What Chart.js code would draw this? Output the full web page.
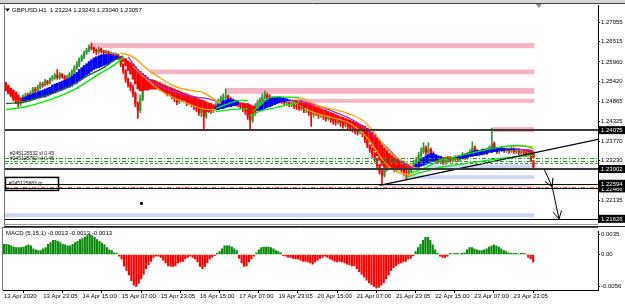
<!DOCTYPE html>
<html>
<head>
<meta charset="utf-8">
<script src="https://cdn.jsdelivr.net/npm/chart.js@4.4.1/dist/chart.umd.min.js"></script>
<style>
  html, body { margin: 0; padding: 0; background: #fff; }
  #wrap { position: relative; width: 625px; height: 304px; overflow: hidden; background: #fff; }
  #wrap canvas { position: absolute; left: 0; }
  #main { top: 0; }
  #macd { top: 227px; }
</style>
</head>
<body>
<div id="wrap">
  <canvas id="main" width="625" height="227"></canvas>
  <canvas id="macd" width="625" height="77"></canvas>
</div>
<script>
// ---- GBPUSD H1 bars, 13 Apr - 23 Apr 2020 ----
const open = [1.2537,1.2526,1.2516,1.2505,1.2494,1.2486,1.2481,1.2489,1.2499,1.2505,
 1.2502,1.2510,1.2521,1.2516,1.2526,1.2535,1.2532,1.2543,1.2537,1.2548,
 1.2553,1.2559,1.2553,1.2562,1.2556,1.2548,1.2553,1.2562,1.2570,1.2580,
 1.2589,1.2602,1.2610,1.2621,1.2629,1.2637,1.2634,1.2629,1.2624,1.2632,
 1.2626,1.2621,1.2624,1.2616,1.2618,1.2613,1.2616,1.2607,1.2589,1.2570,
 1.2548,1.2535,1.2526,1.2508,1.2481,1.2462,1.2494,1.2535,1.2548,1.2526,
 1.2537,1.2543,1.2532,1.2537,1.2526,1.2521,1.2516,1.2508,1.2513,1.2499,
 1.2494,1.2486,1.2491,1.2499,1.2494,1.2483,1.2489,1.2478,1.2472,1.2467,
 1.2456,1.2462,1.2445,1.2462,1.2467,1.2462,1.2467,1.2478,1.2486,1.2494,
 1.2499,1.2502,1.2494,1.2489,1.2486,1.2483,1.2478,1.2472,1.2467,1.2462,
 1.2445,1.2435,1.2454,1.2472,1.2483,1.2491,1.2499,1.2505,1.2499,1.2494,
 1.2494,1.2489,1.2494,1.2491,1.2486,1.2483,1.2483,1.2478,1.2481,1.2475,
 1.2472,1.2467,1.2472,1.2462,1.2467,1.2456,1.2451,1.2459,1.2454,1.2448,
 1.2451,1.2445,1.2440,1.2445,1.2437,1.2432,1.2429,1.2435,1.2427,1.2421,
 1.2424,1.2418,1.2413,1.2410,1.2405,1.2402,1.2408,1.2397,1.2381,1.2364,
 1.2354,1.2343,1.2327,1.2310,1.2294,1.2283,1.2300,1.2310,1.2319,1.2305,
 1.2300,1.2310,1.2305,1.2297,1.2292,1.2289,1.2294,1.2305,1.2316,1.2324,
 1.2337,1.2348,1.2359,1.2346,1.2354,1.2343,1.2332,1.2327,1.2321,1.2327,
 1.2319,1.2324,1.2329,1.2324,1.2327,1.2332,1.2327,1.2332,1.2337,1.2332,
 1.2340,1.2346,1.2359,1.2348,1.2343,1.2346,1.2351,1.2346,1.2354,1.2359,
 1.2370,1.2354,1.2348,1.2354,1.2356,1.2351,1.2354,1.2351,1.2356,1.2348,
 1.2351,1.2346,1.2348,1.2346,1.2343,1.2346,1.23224];
const high = [1.2540,1.2532,1.2521,1.2508,1.2499,1.2491,1.2494,1.2505,1.2510,1.2510,
 1.2516,1.2526,1.2526,1.2532,1.2540,1.2540,1.2548,1.2545,1.2553,1.2559,
 1.2564,1.2575,1.2567,1.2564,1.2559,1.2559,1.2567,1.2575,1.2586,1.2597,
 1.2607,1.2616,1.2626,1.2634,1.2643,1.2648,1.2637,1.2632,1.2637,1.2634,
 1.2629,1.2629,1.2626,1.2624,1.2621,1.2621,1.2618,1.2610,1.2591,1.2575,
 1.2551,1.2540,1.2532,1.2513,1.2486,1.2505,1.2543,1.2553,1.2551,1.2543,
 1.2548,1.2545,1.2543,1.2540,1.2532,1.2526,1.2521,1.2518,1.2516,1.2505,
 1.2499,1.2497,1.2505,1.2502,1.2497,1.2494,1.2491,1.2483,1.2478,1.2472,
 1.2467,1.2464,1.2472,1.2475,1.2472,1.2475,1.2483,1.2494,1.2502,1.2508,
 1.2521,1.2505,1.2499,1.2494,1.2491,1.2489,1.2483,1.2478,1.2472,1.2464,
 1.2451,1.2462,1.2481,1.2489,1.2497,1.2508,1.2516,1.2510,1.2505,1.2499,
 1.2497,1.2499,1.2499,1.2497,1.2489,1.2489,1.2486,1.2486,1.2483,1.2481,
 1.2478,1.2478,1.2475,1.2472,1.2470,1.2462,1.2464,1.2462,1.2456,1.2456,
 1.2454,1.2448,1.2451,1.2448,1.2440,1.2437,1.2440,1.2437,1.2429,1.2429,
 1.2427,1.2421,1.2418,1.2413,1.2410,1.2413,1.2410,1.2400,1.2383,1.2367,
 1.2359,1.2346,1.2329,1.2313,1.2300,1.2310,1.2319,1.2327,1.2321,1.2310,
 1.2316,1.2316,1.2308,1.2302,1.2300,1.2302,1.2310,1.2324,1.2332,1.2346,
 1.2359,1.2373,1.2364,1.2373,1.2359,1.2348,1.2337,1.2332,1.2332,1.2329,
 1.2329,1.2335,1.2335,1.2332,1.2337,1.2337,1.2337,1.2346,1.2343,1.2346,
 1.2354,1.2375,1.2364,1.2354,1.2351,1.2356,1.2356,1.2359,1.2364,1.2413,
 1.2375,1.2359,1.2359,1.2362,1.2359,1.2359,1.2356,1.2362,1.2359,1.2356,
 1.2354,1.2354,1.2354,1.2351,1.2351,1.2348,1.23243];
const low = [1.2521,1.2510,1.2499,1.2489,1.2481,1.2472,1.2475,1.2483,1.2494,1.2497,
 1.2497,1.2505,1.2510,1.2513,1.2521,1.2526,1.2529,1.2532,1.2535,1.2543,
 1.2548,1.2548,1.2548,1.2551,1.2543,1.2543,1.2548,1.2556,1.2564,1.2575,
 1.2583,1.2597,1.2605,1.2616,1.2624,1.2629,1.2621,1.2616,1.2618,1.2621,
 1.2613,1.2616,1.2610,1.2610,1.2607,1.2607,1.2602,1.2583,1.2564,1.2540,
 1.2526,1.2516,1.2499,1.2472,1.2440,1.2456,1.2489,1.2526,1.2521,1.2521,
 1.2532,1.2526,1.2526,1.2521,1.2516,1.2508,1.2502,1.2502,1.2494,1.2486,
 1.2478,1.2481,1.2486,1.2489,1.2475,1.2478,1.2472,1.2464,1.2459,1.2448,
 1.2445,1.2408,1.2440,1.2456,1.2454,1.2456,1.2462,1.2472,1.2481,1.2489,
 1.2494,1.2489,1.2483,1.2478,1.2475,1.2472,1.2467,1.2459,1.2451,1.2437,
 1.2408,1.2429,1.2448,1.2467,1.2478,1.2486,1.2494,1.2494,1.2489,1.2486,
 1.2483,1.2483,1.2486,1.2481,1.2475,1.2478,1.2472,1.2472,1.2467,1.2464,
 1.2462,1.2462,1.2456,1.2456,1.2448,1.2418,1.2443,1.2448,1.2440,1.2443,
 1.2437,1.2432,1.2435,1.2429,1.2424,1.2421,1.2424,1.2418,1.2413,1.2416,
 1.2410,1.2405,1.2402,1.2397,1.2394,1.2397,1.2389,1.2373,1.2359,1.2346,
 1.2332,1.2319,1.2302,1.2286,1.2259,1.2278,1.2294,1.2305,1.2300,1.2292,
 1.2294,1.2297,1.2292,1.2283,1.2270,1.2283,1.2289,1.2300,1.2310,1.2319,
 1.2332,1.2343,1.2340,1.2340,1.2337,1.2327,1.2319,1.2316,1.2316,1.2313,
 1.2313,1.2319,1.2319,1.2319,1.2321,1.2321,1.2321,1.2327,1.2327,1.2327,
 1.2335,1.2340,1.2343,1.2337,1.2337,1.2340,1.2340,1.2340,1.2348,1.2354,
 1.2348,1.2343,1.2343,1.2348,1.2346,1.2346,1.2343,1.2346,1.2343,1.2343,
 1.2340,1.2340,1.2337,1.2335,1.2337,1.2321,1.23040];
const close = [1.2526,1.2516,1.2505,1.2494,1.2486,1.2481,1.2489,1.2499,1.2505,1.2502,
 1.2510,1.2521,1.2516,1.2526,1.2535,1.2532,1.2543,1.2537,1.2548,1.2553,
 1.2559,1.2553,1.2562,1.2556,1.2548,1.2553,1.2562,1.2570,1.2580,1.2589,
 1.2602,1.2610,1.2621,1.2629,1.2637,1.2634,1.2629,1.2624,1.2632,1.2626,
 1.2621,1.2624,1.2616,1.2618,1.2613,1.2616,1.2607,1.2589,1.2570,1.2548,
 1.2535,1.2526,1.2508,1.2481,1.2462,1.2494,1.2535,1.2548,1.2526,1.2537,
 1.2543,1.2532,1.2537,1.2526,1.2521,1.2516,1.2508,1.2513,1.2499,1.2494,
 1.2486,1.2491,1.2499,1.2494,1.2483,1.2489,1.2478,1.2472,1.2467,1.2456,
 1.2462,1.2445,1.2462,1.2467,1.2462,1.2467,1.2478,1.2486,1.2494,1.2499,
 1.2502,1.2494,1.2489,1.2486,1.2483,1.2478,1.2472,1.2467,1.2462,1.2445,
 1.2435,1.2454,1.2472,1.2483,1.2491,1.2499,1.2505,1.2499,1.2494,1.2494,
 1.2489,1.2494,1.2491,1.2486,1.2483,1.2483,1.2478,1.2481,1.2475,1.2472,
 1.2467,1.2472,1.2462,1.2467,1.2456,1.2451,1.2459,1.2454,1.2448,1.2451,
 1.2445,1.2440,1.2445,1.2437,1.2432,1.2429,1.2435,1.2427,1.2421,1.2424,
 1.2418,1.2413,1.2410,1.2405,1.2402,1.2408,1.2397,1.2381,1.2364,1.2354,
 1.2343,1.2327,1.2310,1.2294,1.2283,1.2300,1.2310,1.2319,1.2305,1.2300,
 1.2310,1.2305,1.2297,1.2292,1.2289,1.2294,1.2305,1.2316,1.2324,1.2337,
 1.2348,1.2359,1.2346,1.2354,1.2343,1.2332,1.2327,1.2321,1.2327,1.2319,
 1.2324,1.2329,1.2324,1.2327,1.2332,1.2327,1.2332,1.2337,1.2332,1.2340,
 1.2346,1.2359,1.2348,1.2343,1.2346,1.2351,1.2346,1.2354,1.2359,1.2370,
 1.2354,1.2348,1.2354,1.2356,1.2351,1.2354,1.2351,1.2356,1.2348,1.2351,
 1.2346,1.2348,1.2346,1.2343,1.2346,1.23224,1.23057];

// smoothed heiken ashi bodies
const haOpen = [1.2535,1.2529,1.2524,1.2518,1.2513,1.2505,1.2497,1.2489,1.2489,1.2491,
 1.2491,1.2494,1.2494,1.2497,1.2497,1.2499,1.2499,1.2502,1.2505,1.2508,
 1.2510,1.2513,1.2516,1.2518,1.2521,1.2524,1.2526,1.2529,1.2535,1.2537,
 1.2543,1.2548,1.2553,1.2559,1.2564,1.2570,1.2575,1.2578,1.2580,1.2583,
 1.2586,1.2589,1.2591,1.2597,1.2599,1.2602,1.2607,1.2610,1.2607,1.2605,
 1.2599,1.2594,1.2589,1.2583,1.2575,1.2570,1.2564,1.2559,1.2553,1.2548,
 1.2545,1.2543,1.2540,1.2537,1.2535,1.2532,1.2529,1.2526,1.2524,1.2521,
 1.2518,1.2516,1.2513,1.2510,1.2508,1.2505,1.2502,1.2499,1.2497,1.2494,
 1.2491,1.2489,1.2486,1.2483,1.2481,1.2478,1.2464,1.2464,1.2467,1.2467,
 1.2470,1.2472,1.2472,1.2475,1.2475,1.2478,1.2483,1.2483,1.2481,1.2481,
 1.2478,1.2475,1.2472,1.2462,1.2462,1.2464,1.2467,1.2470,1.2472,1.2475,
 1.2478,1.2481,1.2483,1.2486,1.2486,1.2489,1.2489,1.2489,1.2489,1.2489,
 1.2486,1.2486,1.2483,1.2483,1.2481,1.2478,1.2475,1.2472,1.2470,1.2467,
 1.2464,1.2462,1.2459,1.2456,1.2454,1.2451,1.2448,1.2445,1.2443,1.2440,
 1.2437,1.2435,1.2432,1.2429,1.2427,1.2424,1.2421,1.2418,1.2413,1.2408,
 1.2402,1.2394,1.2386,1.2378,1.2367,1.2359,1.2351,1.2343,1.2337,1.2332,
 1.2327,1.2324,1.2321,1.2319,1.2316,1.2313,1.2310,1.2305,1.2305,1.2305,
 1.2308,1.2310,1.2313,1.2316,1.2319,1.2321,1.2324,1.2327,1.2329,1.2332,
 1.2332,1.2332,1.2332,1.2332,1.2332,1.2329,1.2329,1.2329,1.2332,1.2332,
 1.2335,1.2335,1.2337,1.2337,1.2340,1.2340,1.2343,1.2343,1.2346,1.2346,
 1.2348,1.2348,1.2351,1.2351,1.2351,1.2354,1.2354,1.2354,1.2354,1.2354,
 1.2354,1.2354,1.2354,1.2354,1.2354,1.2351,1.2348];
const haClose = [1.2516,1.2508,1.2502,1.2497,1.2494,1.2491,1.2489,1.2497,1.2499,1.2502,
 1.2505,1.2508,1.2510,1.2513,1.2516,1.2518,1.2521,1.2524,1.2526,1.2532,
 1.2535,1.2537,1.2540,1.2543,1.2545,1.2548,1.2551,1.2556,1.2562,1.2567,
 1.2575,1.2580,1.2586,1.2591,1.2597,1.2602,1.2607,1.2610,1.2613,1.2616,
 1.2616,1.2616,1.2616,1.2616,1.2613,1.2613,1.2610,1.2605,1.2597,1.2586,
 1.2572,1.2562,1.2548,1.2535,1.2521,1.2516,1.2516,1.2518,1.2518,1.2521,
 1.2521,1.2521,1.2521,1.2518,1.2516,1.2513,1.2510,1.2508,1.2505,1.2499,
 1.2494,1.2491,1.2491,1.2489,1.2486,1.2483,1.2481,1.2475,1.2472,1.2467,
 1.2464,1.2459,1.2459,1.2459,1.2462,1.2464,1.2472,1.2478,1.2483,1.2489,
 1.2491,1.2494,1.2494,1.2491,1.2489,1.2486,1.2481,1.2475,1.2467,1.2459,
 1.2451,1.2451,1.2456,1.2467,1.2475,1.2483,1.2489,1.2494,1.2497,1.2499,
 1.2499,1.2499,1.2499,1.2497,1.2497,1.2494,1.2491,1.2489,1.2486,1.2483,
 1.2478,1.2475,1.2472,1.2470,1.2467,1.2462,1.2459,1.2459,1.2456,1.2454,
 1.2451,1.2448,1.2445,1.2443,1.2440,1.2437,1.2435,1.2432,1.2429,1.2427,
 1.2424,1.2418,1.2416,1.2413,1.2410,1.2408,1.2405,1.2397,1.2386,1.2375,
 1.2364,1.2351,1.2337,1.2324,1.2310,1.2305,1.2305,1.2305,1.2305,1.2302,
 1.2302,1.2302,1.2300,1.2300,1.2297,1.2300,1.2302,1.2308,1.2313,1.2319,
 1.2327,1.2332,1.2337,1.2340,1.2343,1.2343,1.2340,1.2337,1.2335,1.2329,
 1.2329,1.2329,1.2329,1.2329,1.2332,1.2335,1.2337,1.2340,1.2340,1.2343,
 1.2346,1.2348,1.2351,1.2351,1.2351,1.2354,1.2354,1.2354,1.2356,1.2359,
 1.2359,1.2359,1.2359,1.2359,1.2356,1.2356,1.2356,1.2356,1.2356,1.2356,
 1.2356,1.2354,1.2351,1.2351,1.2348,1.2343,1.2332];

// MACD (5,15,1) histogram
const macd = [0.0018,0.0018,0.0017,0.0015,0.0013,0.0012,0.0012,0.0012,0.0013,0.0015,
 0.0017,0.0015,0.001,0.0008,0.0007,0.0007,0.001,0.0012,0.0018,0.0021,
 0.0025,0.0025,0.0023,0.0021,0.0018,0.0017,0.0015,0.0015,0.0018,0.0021,
 0.0023,0.0026,0.0028,0.003,0.0033,0.0035,0.0033,0.003,0.0026,0.0023,
 0.002,0.0017,0.0012,0.0008,0.0007,0.0003,0.0002,-0.0003,-0.0008,-0.002,
 -0.0028,-0.0036,-0.0046,-0.0054,-0.0056,-0.0051,-0.0043,-0.0035,-0.0025,-0.0018,
 -0.0012,-0.0005,-0.0003,-0.0003,-0.0005,-0.001,-0.0015,-0.002,-0.0021,-0.0021,
 -0.002,-0.0015,-0.0013,-0.0012,-0.0008,-0.0005,-0.0003,-0.0005,-0.0008,-0.0013,
 -0.0021,-0.0025,-0.0021,-0.0015,-0.0008,-0.0005,-0.0002,0.0002,0.0005,0.001,
 0.0015,0.0015,0.0015,0.0013,0.001,0.0007,-0.0007,-0.0015,-0.0021,-0.002,
 -0.0013,-0.0008,-0.0003,0.0003,0.0008,0.0012,0.0013,0.0013,0.0013,0.0012,
 0.001,0.0007,0.0005,0.0003,-0.0002,-0.0003,-0.0005,-0.0005,-0.0007,-0.0008,
 -0.0008,-0.001,-0.0012,-0.0012,-0.0013,-0.0015,-0.0017,-0.0013,-0.001,-0.0007,
 -0.0005,-0.0003,-0.0005,-0.0008,-0.001,-0.0012,-0.0013,-0.0012,-0.0013,-0.0015,
 -0.0017,-0.0018,-0.002,-0.002,-0.0025,-0.003,-0.0035,-0.004,-0.0045,-0.005,
 -0.0053,-0.0056,-0.0059,-0.0058,-0.0054,-0.005,-0.0043,-0.0036,-0.0028,-0.0023,
 -0.002,-0.0017,-0.0015,-0.0013,-0.0012,-0.0008,-0.0007,-0.0002,0.0005,0.0012,
 0.0018,0.0025,0.003,0.003,0.0025,0.0017,0.0008,0.0002,-0.0003,-0.0005,
 -0.0005,-0.0003,0.0002,0.0001,0.0002,0.0002,0.0001,0.0002,0.0003,0.0008,
 0.0012,0.0012,0.001,0.0008,0.0007,0.0007,0.0008,0.001,0.0013,0.0015,
 0.0017,0.0015,0.0013,0.001,0.0007,0.0005,0.0003,0.0002,0.0002,0.0002,
 0.0001,0.0002,0.0002,0.0001,-0.0005,-0.0008,-0.0013];

// moving-average channel, [bar, price] vertices
const limeA = [[0,1.2464],[8,1.2472],[19,1.2494],[27,1.2516],[33,1.2540],[38,1.2562],[44,1.2586],[48,1.2607]];
const darkGreenA = [[0,1.2481],[8,1.2486],[19,1.2510],[27,1.2532],[33,1.2556],[40,1.2580],[44,1.2599],[48,1.2613]];
const orangeUpB = [[47,1.2621],[52,1.2610],[59,1.2570],[69,1.2529],[75,1.2518],[80,1.2513],[85,1.2494],[88,1.2481]];
const purpleB = [[50,1.2610],[55,1.2567],[63,1.2529],[75,1.2502],[83,1.2494],[88,1.2483]];
const orangeLoB = [[52,1.2583],[61,1.2529],[67,1.2502],[80,1.2467],[86,1.2464]];
const limeC1 = [[86,1.2467],[90,1.2478],[95,1.2489],[99,1.2489]];
const limeC2 = [[86,1.2459],[92,1.2464],[99,1.2467]];
const limeE1 = [[101,1.2459],[105,1.2481],[108,1.2497],[114,1.2499],[120,1.2497]];
const limeE2 = [[100,1.2448],[105,1.2462],[109,1.2467],[114,1.2475],[120,1.2483]];
const orangeUpF = [[118,1.2499],[122,1.2494],[128,1.2475],[136,1.2462],[140,1.2454],[146,1.2435],[150,1.2408],[154,1.2373],[159,1.2337],[165,1.2313],[168,1.2302]];
const purpleF = [[120,1.2491],[133,1.2462],[143,1.2432],[151,1.2391],[158,1.2346],[162,1.2319],[167,1.2300]];
const orangeLoF = [[122,1.2467],[130,1.2448],[140,1.2429],[148,1.2386],[155,1.2319],[160,1.2292],[167,1.2283]];
const limeG1 = [[166,1.2289],[172,1.2305],[178,1.2324],[186,1.2337],[195,1.2351],[206,1.2364],[212,1.2364],[216,1.2356]];
const limeG2 = [[164,1.2278],[172,1.2294],[178,1.2305],[192,1.2319],[206,1.2332],[216,1.2337]];
const orangeG = [[205,1.2362],[210,1.2364],[216,1.2362]];
const purpleG = [[208,1.2356],[216,1.2351]];

// drawn objects
const trendLine = [[153,1.2255],[243,1.2383]];
const arrowPath = [[220.4,1.2300],[223.7,1.2251],[226.5,1.2162]];
const marker = [[55.5,1.2205]];
const pinkZones = [[35,1.2648,1.2634],[59,1.2575,1.2562],[90,1.2524,1.2508],[103,1.2494,1.2483],[199.6,1.2416,1.2402]];
const blueZones = [[172,1.2313,1.2300],[162,1.2283,1.2273],[154,1.2259,1.2251],[-0.4,1.2178,1.2167]];
const zoneEnd = 216.4;
const darkLevels = [1.24075, 1.23002];
const blackLevels = [1.22594, 1.22466, 1.21626];
const greenDashDot = [1.2330, 1.2322];
const greenDashed = [1.2317];
const orangeDashDot = [1.2250];
const boxedPrices = [1.24075, 1.23002, 1.22466, 1.22594, 1.21626];
const orderTags = [[1.2344, '#245125532 sl 0.45'], [1.2330, '#245125752 sl 0.45']];
const tpTag = [1.2259, '#245125883 tp'];

// axes
const priceTicks = [1.27055, 1.26515, 1.2596, 1.2542, 1.24865, 1.24325, 1.2377, 1.2323, 1.22135];
const macdTicks = [0.0035, 0, -0.0056];
const timeTickBars = [0, 16, 32, 48, 64, 80, 96, 112, 128, 144, 160, 176, 192, 208];
const timeLabels = ['13 Apr 2020','13 Apr 23:05','14 Apr 15:00','15 Apr 07:00','15 Apr 23:05','16 Apr 15:00',
  '17 Apr 07:00','19 Apr 23:05','20 Apr 15:00','21 Apr 07:00','21 Apr 23:05','22 Apr 15:00','23 Apr 07:00','23 Apr 23:05'];

const FONT = "'Liberation Sans', Arial, sans-serif";
Chart.defaults.font.family = FONT;
Chart.defaults.font.size = 6;
Chart.defaults.color = '#000';

const UP = '#2e9a2e', DOWN = '#ff0000', HA_UP = '#0000ff';
const X_MIN = -0.4, X_MAX = 242.46;
const bars = close.map((_, i) => i);
const pts = list => list.map(p => ({ x: p[0], y: p[1] }));

function maLine(list, color, width) {
  return { type: 'line', data: pts(list), borderColor: color, borderWidth: width || 1.3,
    pointRadius: 0, tension: 0.35, order: 30 };
}

function fixedWidth(w) { return scale => { scale.width = w; }; }

// ---- main price panel ----
const mainPlugin = {
  id: 'mainDecor',
  beforeDatasetsDraw(chart) {
    const { ctx, chartArea: a, scales: { x, y } } = chart;
    ctx.save();
    ctx.beginPath(); ctx.rect(a.left, a.top, a.right - a.left, a.bottom - a.top); ctx.clip();
    const band = (z, fill) => {
      const x0 = Math.max(x.getPixelForValue(z[0]), a.left);
      const x1 = x.getPixelForValue(zoneEnd);
      const y0 = y.getPixelForValue(z[1]), y1 = y.getPixelForValue(z[2]);
      ctx.fillStyle = fill;
      ctx.fillRect(x0, y0, x1 - x0, y1 - y0);
    };
    pinkZones.forEach(z => band(z, '#f7b4c2'));
    blueZones.forEach(z => band(z, '#cdd6f3'));
    ctx.restore();
  },
  afterDatasetsDraw(chart) {
    const { ctx, chartArea: a, scales: { x, y } } = chart;
    ctx.save();
    ctx.beginPath(); ctx.rect(a.left, a.top, a.right - a.left, a.bottom - a.top); ctx.clip();
    const hline = (p, color, w, dash) => {
      const py = Math.round(y.getPixelForValue(p)) + (w % 2 ? 0.5 : 0);
      ctx.beginPath();
      ctx.setLineDash(dash || []);
      ctx.strokeStyle = color; ctx.lineWidth = w;
      ctx.moveTo(a.left, py); ctx.lineTo(a.right, py); ctx.stroke();
    };
    greenDashDot.forEach(p => hline(p, '#1d9a1d', 1, [4, 2, 1, 2]));
    greenDashed.forEach(p => hline(p, '#3aa83a', 1, [3, 2]));
    orangeDashDot.forEach(p => hline(p, '#ff6a1a', 1, [4, 2, 1, 2]));
    darkLevels.forEach(p => hline(p, '#3a3a3a', 2));
    blackLevels.forEach(p => hline(p, '#000', 1));
    ctx.setLineDash([]);

    // arrow drawing
    const ap = arrowPath.map(p => [x.getPixelForValue(p[0]), y.getPixelForValue(p[1])]);
    ctx.strokeStyle = '#000'; ctx.lineWidth = 1;
    ctx.beginPath();
    for (let k = 1; k < ap.length; k++) {
      const [x0, y0] = ap[k - 1], [x1, y1] = ap[k];
      ctx.moveTo(x0, y0); ctx.lineTo(x1, y1);
      const ang = Math.atan2(y1 - y0, x1 - x0);
      ctx.moveTo(x1, y1); ctx.lineTo(x1 - 9 * Math.cos(ang - 0.5), y1 - 9 * Math.sin(ang - 0.5));
      ctx.moveTo(x1, y1); ctx.lineTo(x1 - 9 * Math.cos(ang + 0.5), y1 - 9 * Math.sin(ang + 0.5));
    }
    ctx.stroke();

    // order tags on the left
    ctx.font = '5px ' + FONT;
    ctx.textBaseline = 'middle'; ctx.textAlign = 'left';
    ctx.fillStyle = '#111';
    orderTags.forEach(t => ctx.fillText(t[1], a.left + 5, y.getPixelForValue(t[0])));
    const ty = y.getPixelForValue(tpTag[0]);
    ctx.strokeStyle = '#000'; ctx.lineWidth = 1.5;
    ctx.strokeRect(a.left + 0.5, ty - 6.5, 53, 13);
    ctx.fillText(tpTag[1], a.left + 4, ty);
    ctx.restore();
  },
  afterDraw(chart) {
    const { ctx, chartArea: a, scales: { x, y } } = chart;
    ctx.save();
    // window frame
    ctx.fillStyle = '#d6d6d6'; ctx.fillRect(0, 0, 625, 3);
    ctx.strokeStyle = '#444'; ctx.lineWidth = 1;
    ctx.beginPath(); ctx.moveTo(0, 3.5); ctx.lineTo(625, 3.5); ctx.stroke();
    ctx.strokeStyle = '#777';
    ctx.beginPath(); ctx.moveTo(a.left - 0.5, a.top); ctx.lineTo(a.left - 0.5, 227); ctx.stroke();
    ctx.strokeStyle = '#999';
    ctx.beginPath(); ctx.moveTo(a.left, 224.5); ctx.lineTo(a.right, 224.5); ctx.stroke();
    ctx.strokeStyle = '#222';
    ctx.beginPath(); ctx.moveTo(a.left, 226.5); ctx.lineTo(625, 226.5); ctx.stroke();

    // chart-shift marker
    const sx = x.getPixelForValue(218.2);
    ctx.fillStyle = '#8c8c8c';
    ctx.beginPath(); ctx.moveTo(sx - 3, 4); ctx.lineTo(sx + 3, 4); ctx.lineTo(sx, 8); ctx.fill();

    // symbol header
    ctx.fillStyle = '#000';
    ctx.beginPath(); ctx.moveTo(5, 8.5); ctx.lineTo(10, 8.5); ctx.lineTo(7.5, 11.5); ctx.fill();
    ctx.font = '6px ' + FONT; ctx.textBaseline = 'middle'; ctx.textAlign = 'left';
    ctx.fillText('GBPUSD,H1  1.23224 1.23243 1.23040 1.23057', 12, 10);

    // boxed price labels on the axis
    boxedPrices.forEach(p => {
      const py = y.getPixelForValue(p);
      ctx.fillStyle = '#000';
      ctx.fillRect(a.right + 1, py - 4, 26, 8);
      ctx.fillStyle = '#fff';
      ctx.fillText(p.toFixed(5), a.right + 3, py + 0.5);
    });
    ctx.restore();
  }
};

new Chart(document.getElementById('main'), {
  type: 'bar',
  data: {
    datasets: [
      { type: 'line', data: pts(marker), showLine: false, pointRadius: 1.3, pointStyle: 'rect',
        pointBackgroundColor: '#000', pointBorderColor: '#000', order: 5 },
      { type: 'line', data: pts(trendLine), borderColor: '#000', borderWidth: 1.2, pointRadius: 0, order: 10 },
      maLine(limeA, '#00ee00', 1.5), maLine(darkGreenA, '#1d6b1d', 1.4),
      maLine(orangeUpB, '#ffa000'), maLine(purpleB, '#9b30d9'), maLine(orangeLoB, '#ffa000'),
      maLine(limeC1, '#00ee00'), maLine(limeC2, '#00ee00'),
      maLine(limeE1, '#00ee00'), maLine(limeE2, '#00ee00'),
      maLine(orangeUpF, '#ffa000'), maLine(purpleF, '#9b30d9'), maLine(orangeLoF, '#ffa000'),
      maLine(limeG1, '#00ee00'), maLine(limeG2, '#00ee00'),
      maLine(orangeG, '#ffa000'), maLine(purpleG, '#9b30d9'),
      { data: bars.map(i => ({ x: i, y: [haOpen[i], haClose[i]] })), barThickness: 2, grouped: false,
        backgroundColor: c => haClose[c.dataIndex] >= haOpen[c.dataIndex] ? HA_UP : DOWN, order: 40 },
      { data: bars.map(i => ({ x: i, y: [open[i], close[i]] })), barThickness: 1.6, grouped: false,
        backgroundColor: c => close[c.dataIndex] >= open[c.dataIndex] ? UP : DOWN, order: 50 },
      { data: bars.map(i => ({ x: i, y: [low[i], high[i]] })), barThickness: 1, grouped: false,
        backgroundColor: c => close[c.dataIndex] >= open[c.dataIndex] ? UP : DOWN, order: 60 }
    ]
  },
  options: {
    responsive: false,
    maintainAspectRatio: false,
    animation: false,
    layout: { padding: { left: 3, right: 0, top: 4, bottom: 1 } },
    plugins: { legend: { display: false }, tooltip: { enabled: false } },
    scales: {
      x: { type: 'linear', min: X_MIN, max: X_MAX, offset: false, display: false },
      y: {
        position: 'right', min: 1.21538, max: 1.27532,
        afterFit: fixedWidth(27),
        afterBuildTicks: s => { s.ticks = priceTicks.map(v => ({ value: v })); },
        ticks: { autoSkip: false, padding: 1, callback: v => v.toFixed(5), font: { size: 6 } },
        grid: { drawOnChartArea: false, drawTicks: true, tickLength: 2, color: '#000' },
        border: { display: true, color: '#000', width: 1 }
      }
    }
  },
  plugins: [mainPlugin]
});

// ---- MACD panel ----
const macdPlugin = {
  id: 'macdDecor',
  afterDraw(chart) {
    const { ctx, chartArea: a } = chart;
    ctx.save();
    ctx.strokeStyle = '#555'; ctx.lineWidth = 1;
    ctx.beginPath(); ctx.moveTo(a.left, 0.5); ctx.lineTo(a.right, 0.5); ctx.stroke();
    ctx.strokeStyle = '#777';
    ctx.beginPath(); ctx.moveTo(a.left - 0.5, 0); ctx.lineTo(a.left - 0.5, a.bottom); ctx.stroke();
    ctx.fillStyle = '#000';
    ctx.font = '6px ' + FONT; ctx.textBaseline = 'middle'; ctx.textAlign = 'left';
    ctx.fillText('MACD (5,15,1) -0.0013 -0.0013 -0.0013', 6, 6.5);
    ctx.restore();
  }
};

new Chart(document.getElementById('macd'), {
  type: 'bar',
  data: {
    datasets: [{
      data: bars.map(i => ({ x: i, y: macd[i] })), barThickness: 1.5, grouped: false,
      backgroundColor: c => macd[c.dataIndex] >= 0 ? '#0a8a0a' : '#ff0000'
    }]
  },
  options: {
    responsive: false,
    maintainAspectRatio: false,
    animation: false,
    layout: { padding: { left: 3, right: 0, top: 1, bottom: 0 } },
    plugins: { legend: { display: false }, tooltip: { enabled: false } },
    scales: {
      x: {
        type: 'linear', min: X_MIN, max: X_MAX, offset: false,
        afterFit: s => { s.height = 14; },
        afterBuildTicks: s => { s.ticks = timeTickBars.map(v => ({ value: v })); },
        ticks: { autoSkip: false, maxRotation: 0, align: 'start', padding: 0,
          callback: v => timeLabels[timeTickBars.indexOf(v)], font: { size: 6 } },
        grid: { drawOnChartArea: false, drawTicks: true, tickLength: 3, color: '#000' },
        border: { display: true, color: '#000' }
      },
      y: {
        position: 'right', min: -0.00624, max: 0.00402,
        afterFit: fixedWidth(27),
        afterBuildTicks: s => { s.ticks = macdTicks.map(v => ({ value: v })); },
        ticks: { autoSkip: false, padding: 1, callback: v => v === 0 ? '0.00' : v.toFixed(4), font: { size: 6 } },
        grid: { drawOnChartArea: false, drawTicks: true, tickLength: 2, color: '#000' },
        border: { display: true, color: '#000' }
      }
    }
  },
  plugins: [macdPlugin]
});
</script>
</body>
</html>
